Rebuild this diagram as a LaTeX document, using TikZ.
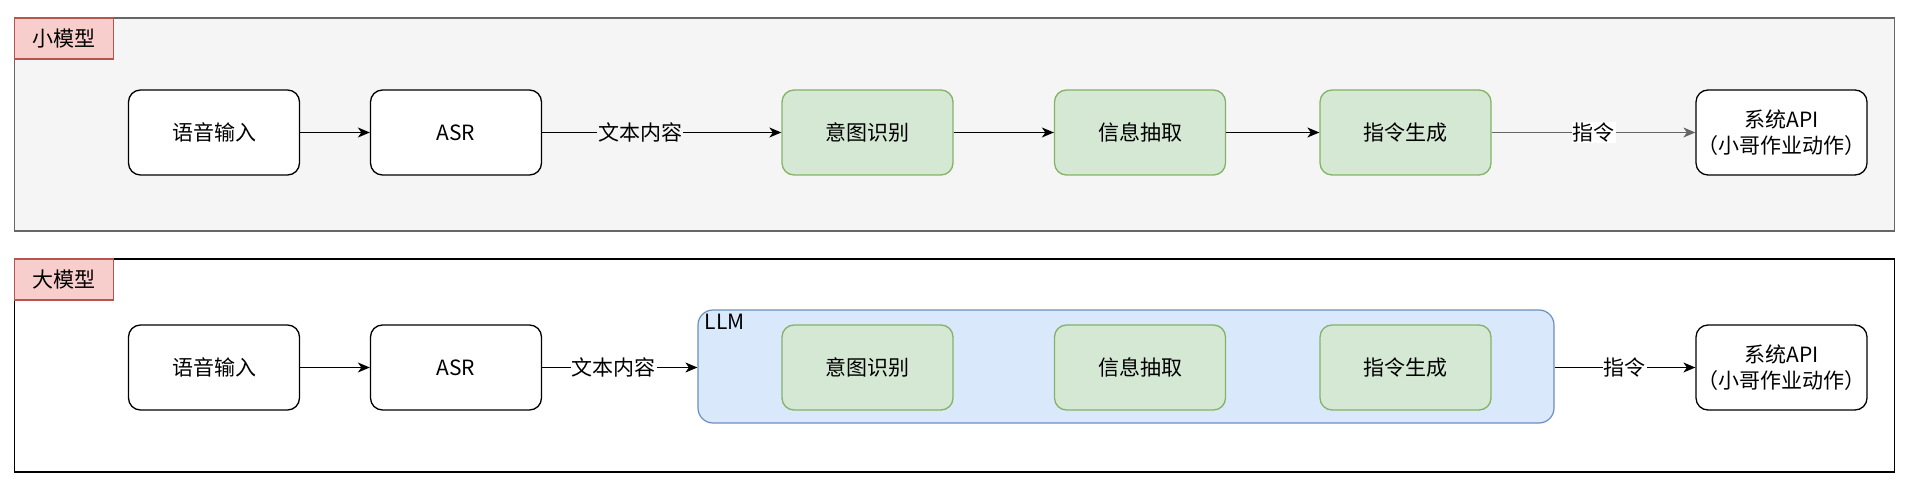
\documentclass[tikz,border=0pt]{standalone}
\usepackage{fontspec}
\setmainfont{Noto Sans CJK SC}
\usetikzlibrary{arrows.meta}
\definecolor{gfill}{HTML}{D5E8D4}
\definecolor{gdraw}{HTML}{82B366}
\definecolor{bfill}{HTML}{DAE8FC}
\definecolor{bdraw}{HTML}{6C8EBF}
\definecolor{rfill}{HTML}{F8CECC}
\definecolor{rdraw}{HTML}{B85450}
\definecolor{cfill}{HTML}{F5F5F5}
\definecolor{cdraw}{HTML}{666666}
\begin{document}
\begin{tikzpicture}[x=1pt,y=-1pt,
  txt/.style={font=\fontsize{21}{26}\selectfont},
  box/.style={txt, draw=black, fill=white, rounded corners=12pt, minimum width=171pt, minimum height=85pt, line width=1.3pt, inner sep=0pt, align=center},
  gbox/.style={box, draw=gdraw, fill=gfill},
  container/.style={draw, line width=1.2pt, minimum width=1880pt, minimum height=213pt, inner sep=0pt},
  tag/.style={txt, draw=rdraw, fill=rfill, line width=1.2pt, minimum width=99pt, minimum height=41pt, inner sep=0pt, anchor=north west},
  arr/.style={line width=1.3pt, -{Stealth[length=12pt,width=10pt,inset=3.5pt]}},
  elabel/.style={txt, inner sep=1pt}
]
\useasboundingbox (0,0) rectangle (1908,486);
% containers
\node[container, draw=cdraw, fill=cfill] (top) at (954.6,124.5) {};
\node[container, draw=black, fill=white] (bot) at (954.6,365.5) {};
\node[tag] (tagS) at (top.north west) {小模型};
\node[tag] (tagL) at (bot.north west) {大模型};
% LLM group
\node[draw=bdraw, fill=bfill, line width=1.2pt, rounded corners=15pt, minimum width=856pt, minimum height=113pt, inner sep=0pt] (llm) at (1126,366.5) {};
\node[txt, anchor=north west, inner sep=0pt] (llmlabel) at ([xshift=7pt,yshift=-5pt]llm.north west) {LLM};
% row 1
\node[box] (a1) at (214,132.5) {语音输入};
\node[box] (b1) at (456,132.5) {ASR};
\node[gbox] (c1) at (867.5,132.5) {意图识别};
\node[gbox] (d1) at (1140,132.5) {信息抽取};
\node[gbox] (e1) at (1405.5,132.5) {指令生成};
\node[box] (f1) at (1781.5,132.5) {系统API\\（小哥作业动作）};
% row 2
\node[box] (a2) at (214,367.5) {语音输入};
\node[box] (b2) at (456,367.5) {ASR};
\node[gbox] (c2) at (867.5,367.5) {意图识别};
\node[gbox] (d2) at (1140,367.5) {信息抽取};
\node[gbox] (e2) at (1405.5,367.5) {指令生成};
\node[box] (f2) at (1781.5,367.5) {系统API\\（小哥作业动作）};
% edges row 1
\draw[arr] (a1) -- (b1);
\draw[arr] (b1) -- node[elabel, fill=cfill, pos=0.41] {文本内容} (c1);
\draw[arr] (c1) -- (d1);
\draw[arr] (d1) -- (e1);
\draw[arr, draw=cdraw] (e1) -- node[elabel, fill=white] {指令} (f1);
% edges row 2
\draw[arr] (a2) -- (b2);
\draw[arr] (b2) -- node[elabel, fill=white, pos=0.46] {文本内容} (llm.west |- b2.east);
\draw[arr] (llm.east |- f2.west) -- node[elabel, fill=white] {指令} (f2);
\end{tikzpicture}
\end{document}
